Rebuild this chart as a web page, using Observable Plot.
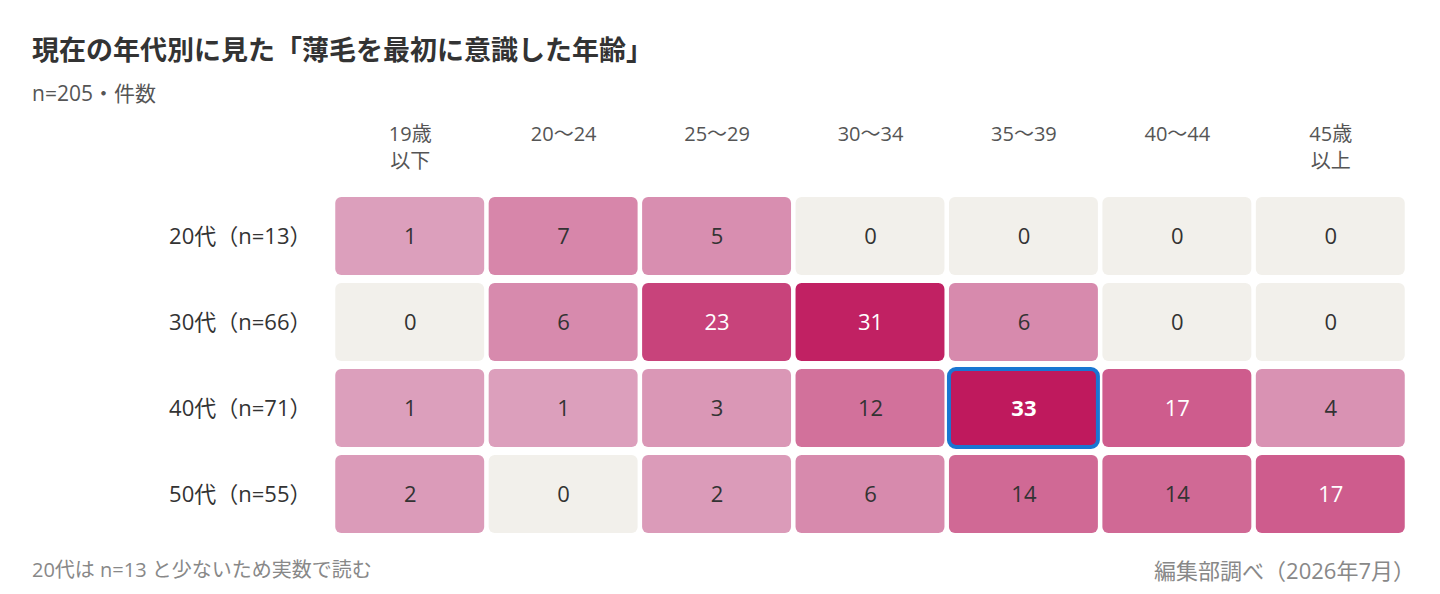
<!DOCTYPE html>
<html lang="ja">
<head>
<meta charset="utf-8">
<script src="https://cdn.jsdelivr.net/npm/d3@7"></script>
<script src="https://cdn.jsdelivr.net/npm/@observablehq/plot@0.6"></script>
<style>
  html, body { margin: 0; padding: 0; background: #fff; }
  body { width: 1440px; height: 594px; position: relative; overflow: hidden;
         font-family: "Open Sans", "Noto Sans CJK JP", sans-serif; }
  .title { position: absolute; left: 32px; top: 30px; font-size: 27px; font-weight: 700; color: #333;
           font-family: "Noto Sans CJK JP", sans-serif; line-height: 38px; white-space: nowrap; }
  .sub { position: absolute; left: 32px; top: 78px; font-size: 21px; color: #555; line-height: 30px; }
  #chart { position: absolute; left: 0; top: 110px; }
  .foot { position: absolute; top: 555px; color: #888; line-height: 30px; white-space: nowrap; }
  .foot.l { left: 32px; font-size: 20px; }
  .foot.r { right: 25px; font-size: 22px; }
</style>
</head>
<body>
<div class="title">現在の年代別に見た「薄毛を最初に意識した年齢」</div>
<div class="sub">n=205・件数</div>
<div id="chart"></div>
<div class="foot l">20代は n=13 と少ないため実数で読む</div>
<div class="foot r">編集部調べ（2026年7月）</div>
<script>
const ageGroups = ["20代（n=13）", "30代（n=66）", "40代（n=71）", "50代（n=55）"];
const onsetAges = ["19歳\n以下", "20〜24", "25〜29", "30〜34", "35〜39", "40〜44", "45歳\n以上"];
const counts20s = [1, 7, 5, 0, 0, 0, 0];
const counts30s = [0, 6, 23, 31, 6, 0, 0];
const counts40s = [1, 1, 3, 12, 33, 17, 4];
const counts50s = [2, 0, 2, 6, 14, 14, 17];

const rows = [counts20s, counts30s, counts40s, counts50s];
const data = [];
rows.forEach((vals, i) => vals.forEach((v, j) => data.push({group: ageGroups[i], age: onsetAges[j], value: v})));
const maxVal = d3.max(data, d => d.value);
const maxCells = data.filter(d => d.value === maxVal);
const otherCells = data.filter(d => d.value !== maxVal);

const color = d3.scaleLinear().domain([1, maxVal]).range(["#dc9fbc", "#bf195d"]);
const fillOf = d => d.value === 0 ? "#f2f0eb" : color(d.value);

const chart = Plot.plot({
  width: 1440,
  height: 430,
  marginTop: 83,
  marginBottom: 3,
  marginLeft: 333,
  marginRight: 33,
  style: {fontFamily: "'Open Sans', 'Noto Sans CJK JP', sans-serif", background: "transparent"},
  x: {domain: onsetAges, type: "band", padding: 0, round: false, axis: null},
  y: {domain: ageGroups, type: "band", padding: 0, round: false, axis: null},
  marks: [
    Plot.cell(data, {x: "age", y: "group", fill: fillOf, insetLeft: 2.25, insetRight: 2.25, insetTop: 4, insetBottom: 4, rx: 6, ry: 6}),
    Plot.cell(maxCells, {x: "age", y: "group", fill: "none", stroke: "#1976d2", strokeWidth: 4, insetLeft: 2.25, insetRight: 2.25, insetTop: 4, insetBottom: 4, rx: 7, ry: 7}),
    Plot.text(otherCells, {x: "age", y: "group", text: d => String(d.value), fontSize: 22,
      fill: d => d.value >= 17 ? "#ffffff" : "#333333"}),
    Plot.text(maxCells, {x: "age", y: "group", text: d => String(d.value), fontSize: 22,
      fill: "#ffffff", fontWeight: 700}),
    Plot.text(onsetAges, {x: d => d, frameAnchor: "top", dy: -72, lineAnchor: "top", text: d => d, fontSize: 20, lineHeight: 1.35, fill: "#555"}),
    Plot.text(ageGroups, {y: d => d, frameAnchor: "left", dx: -22, textAnchor: "end", text: d => d, fontSize: 22, fill: "#333"})
  ]
});
document.getElementById("chart").appendChild(chart);
</script>
</body>
</html>
